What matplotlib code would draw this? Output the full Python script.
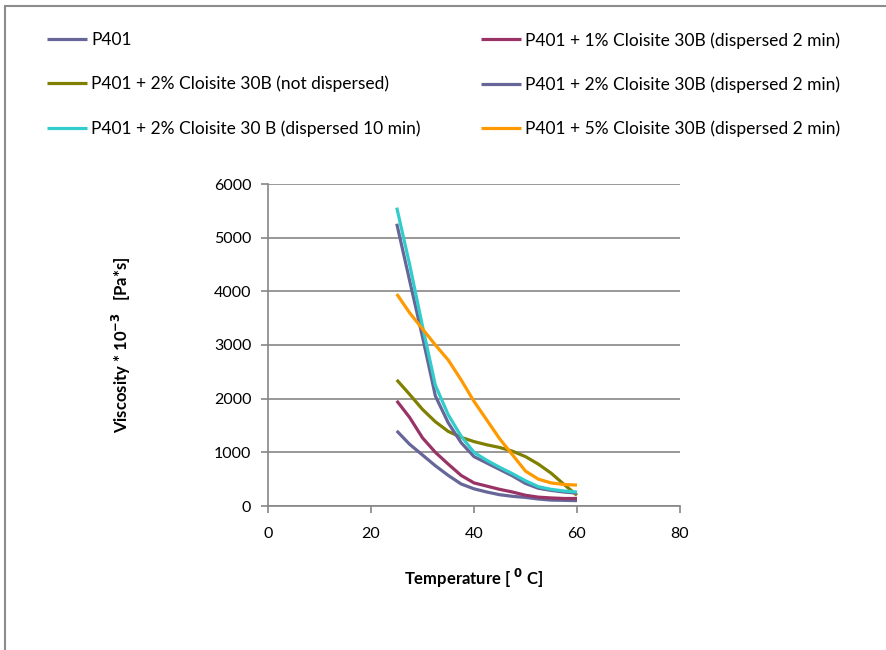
import matplotlib
matplotlib.use("Agg")
import matplotlib.pyplot as plt
from matplotlib.patches import Rectangle

plt.rcParams['font.family'] = ['Lato', 'DejaVu Sans']

temperature = [25, 27.5, 30, 32.5, 35, 37.5, 40, 42.5, 45, 47.5, 50, 52.5, 55, 57.5, 60]

p401 =           [1400, 1150, 950, 750, 570, 410, 320, 260, 210, 180, 160, 130, 110, 105, 100]
p401_1_2min =    [1960, 1650, 1270, 1000, 780, 570, 430, 370, 310, 260, 200, 165, 150, 140, 140]
p401_2_notdisp = [2350, 2080, 1800, 1570, 1390, 1280, 1200, 1140, 1090, 1020, 920, 780, 610, 400, 200]
p401_2_2min =    [5260, 4200, 3150, 2050, 1550, 1180, 920, 800, 680, 560, 420, 330, 290, 260, 240]
p401_2_10min =   [5560, 4500, 3350, 2250, 1700, 1300, 1000, 850, 720, 600, 470, 360, 310, 280, 260]
p401_5_2min =    [3950, 3600, 3300, 3000, 2720, 2350, 1950, 1600, 1250, 950, 650, 500, 430, 400, 390]

labels = [
    "P401",
    "P401 + 1% Cloisite 30B (dispersed 2 min)",
    "P401 + 2% Cloisite 30B (not dispersed)",
    "P401 + 2% Cloisite 30B (dispersed 2 min)",
    "P401 + 2% Cloisite 30 B (dispersed 10 min)",
    "P401 + 5% Cloisite 30B (dispersed 2 min)",
]
series = [p401, p401_1_2min, p401_2_notdisp, p401_2_2min, p401_2_10min, p401_5_2min]
colors = ["#666699", "#993366", "#808000", "#666699", "#33CCCC", "#FF9900"]

x_ticks = [0, 20, 40, 60, 80]
y_ticks = [0, 1000, 2000, 3000, 4000, 5000, 6000]

W, H = 887, 650
fig = plt.figure(figsize=(W / 100, H / 100), dpi=100)
ax = fig.add_axes([268 / W, 1 - 506 / H, (680 - 268) / W, (506 - 184) / H])

grid_color = "#868686"
handles = []
for vals, lab, col in zip(series, labels, colors):
    ln, = ax.plot(temperature, vals, color=col, lw=2.3, label=lab, solid_capstyle='butt')
    handles.append(ln)

ax.set_xlim(0, 80)
ax.set_ylim(0, 6000)
ax.set_xticks(x_ticks)
ax.set_yticks(y_ticks)
ax.yaxis.grid(True, color=grid_color, lw=1.2)
ax.set_axisbelow(True)
for s in ["top", "right"]:
    ax.spines[s].set_visible(False)
for s in ["left", "bottom"]:
    ax.spines[s].set_color(grid_color)
    ax.spines[s].set_linewidth(1.2)
ax.tick_params(axis="both", direction="out", length=5, width=1.2, color=grid_color,
               labelsize=11.5, labelcolor="black")
ax.tick_params(axis="x", pad=10)
ax.tick_params(axis="y", pad=7)

ax.set_xlabel(r"Temperature [ $^{\mathbf{0}}$ C]", fontsize=12, fontweight="bold", labelpad=19)
ax.set_ylabel(r"Viscosity * 10$^{\mathbf{-3}}$   [Pa*s]", fontsize=12, fontweight="bold", labelpad=58)

# legend: two columns built as two legends
leg_kw = dict(frameon=False, loc="upper left", fontsize=12.5, handlelength=2.3,
              handletextpad=0.25, labelspacing=1.6, borderpad=0, borderaxespad=0)
leg1 = fig.legend([handles[0], handles[2], handles[4]], [labels[0], labels[2], labels[4]],
                  bbox_to_anchor=(47 / W, 1 - 32 / H), **leg_kw)
leg2 = fig.legend([handles[1], handles[3], handles[5]], [labels[1], labels[3], labels[5]],
                  bbox_to_anchor=(481 / W, 1 - 32 / H), **leg_kw)

# chart-area border
fig.patches.append(Rectangle((5 / W, -0.1), 1.2, 1 - 6 / H + 0.1, transform=fig.transFigure,
                             fill=False, edgecolor="#8c8c8c", lw=1.5))

fig.savefig("out.png", dpi=100)
